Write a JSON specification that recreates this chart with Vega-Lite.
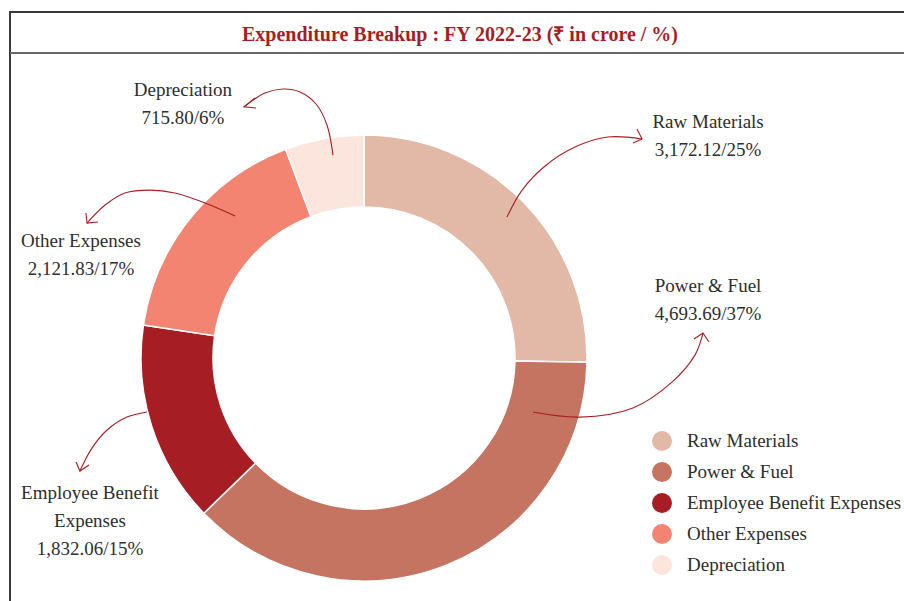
{
  "$schema": "https://vega.github.io/schema/vega-lite/v6.json",
  "width": 900,
  "height": 600,
  "autosize": "none",
  "padding": {"left": 10, "top": 12, "right": 0, "bottom": 0},
  "background": "white",
  "title": {
    "text": "Expenditure Breakup : FY 2022-23 (₹ in crore / %)",
    "font": "Liberation Serif",
    "fontSize": 20,
    "fontWeight": "bold",
    "color": "#A61E24",
    "anchor": "middle",
    "frame": "group",
    "baseline": "alphabetic",
    "offset": 0,
    "dy": 49
  },
  "config": {
    "view": {"stroke": "#3a3a3a", "strokeWidth": 2},
    "font": "Liberation Serif"
  },
  "datasets": {
    "spend": [
      {"idx": 1, "category": "Raw Materials", "value": 3172.12},
      {"idx": 2, "category": "Power & Fuel", "value": 4693.69},
      {"idx": 3, "category": "Employee Benefit Expenses", "value": 1832.06},
      {"idx": 4, "category": "Other Expenses", "value": 2121.83},
      {"idx": 5, "category": "Depreciation", "value": 715.80}
    ],
    "notes": [
      {"category": "Depreciation", "label": "Depreciation\n715.80/6%", "x": -81.2, "y": 117.5},
      {"category": "Raw Materials", "label": "Raw Materials\n3,172.12/25%", "x": 154.3, "y": 103.1},
      {"category": "Power & Fuel", "label": "Power & Fuel\n4,693.69/37%", "x": 154.3, "y": 29.6},
      {"category": "Other Expenses", "label": "Other Expenses\n2,121.83/17%", "x": -126.9, "y": 49.8},
      {"category": "Employee Benefit Expenses", "label": "Employee Benefit\nExpenses\n1,832.06/15%", "x": -122.9, "y": -63.2}
    ],
    "curves": [
      {"id": "dep", "i": 1, "x": -13.9, "y": 91.0},
      {"id": "dep", "i": 2, "x": -16.6, "y": 104.5},
      {"id": "dep", "i": 3, "x": -21.5, "y": 113.9},
      {"id": "dep", "i": 4, "x": -28.7, "y": 119.3},
      {"id": "dep", "i": 5, "x": -36.3, "y": 120.6},
      {"id": "dep", "i": 6, "x": -44.4, "y": 118.8},
      {"id": "dep", "i": 7, "x": -53.8, "y": 112.6},
      {"id": "oth", "i": 1, "x": -57.8, "y": 63.7},
      {"id": "oth", "i": 2, "x": -71.3, "y": 69.5},
      {"id": "oth", "i": 3, "x": -84.8, "y": 74.0},
      {"id": "oth", "i": 4, "x": -96.0, "y": 75.3},
      {"id": "oth", "i": 5, "x": -107.2, "y": 74.0},
      {"id": "oth", "i": 6, "x": -116.1, "y": 68.6},
      {"id": "oth", "i": 7, "x": -124.2, "y": 60.5},
      {"id": "emp", "i": 1, "x": -97.3, "y": -24.2},
      {"id": "emp", "i": 2, "x": -106.3, "y": -26.5},
      {"id": "emp", "i": 3, "x": -115.2, "y": -32.3},
      {"id": "emp", "i": 4, "x": -122.0, "y": -40.4},
      {"id": "emp", "i": 5, "x": -127.4, "y": -50.7},
      {"id": "raw", "i": 1, "x": 64.1, "y": 63.2},
      {"id": "raw", "i": 2, "x": 70.9, "y": 75.3},
      {"id": "raw", "i": 3, "x": 81.2, "y": 86.1},
      {"id": "raw", "i": 4, "x": 94.6, "y": 94.6},
      {"id": "raw", "i": 5, "x": 109.4, "y": 99.1},
      {"id": "raw", "i": 6, "x": 124.7, "y": 98.2},
      {"id": "pow", "i": 1, "x": 75.8, "y": -24.2},
      {"id": "pow", "i": 2, "x": 96.9, "y": -26.5},
      {"id": "pow", "i": 3, "x": 120.6, "y": -22.4},
      {"id": "pow", "i": 4, "x": 138.1, "y": -10.8},
      {"id": "pow", "i": 5, "x": 148.4, "y": 1.3},
      {"id": "pow", "i": 6, "x": 152.0, "y": 11.2}
    ],
    "heads": [
      {"id": "dep", "i": 1, "x": -48.9, "y": 116.6},
      {"id": "dep", "i": 2, "x": -53.8, "y": 112.6},
      {"id": "dep", "i": 3, "x": -48.4, "y": 112.1},
      {"id": "oth", "i": 1, "x": -124.7, "y": 65.0},
      {"id": "oth", "i": 2, "x": -124.2, "y": 60.5},
      {"id": "oth", "i": 3, "x": -119.3, "y": 61.0},
      {"id": "emp", "i": 1, "x": -129.1, "y": -46.6},
      {"id": "emp", "i": 2, "x": -127.4, "y": -50.7},
      {"id": "emp", "i": 3, "x": -123.3, "y": -48.0},
      {"id": "raw", "i": 1, "x": 122.4, "y": 102.7},
      {"id": "raw", "i": 2, "x": 124.7, "y": 98.2},
      {"id": "raw", "i": 3, "x": 120.6, "y": 96.4},
      {"id": "pow", "i": 1, "x": 148.0, "y": 8.5},
      {"id": "pow", "i": 2, "x": 152.0, "y": 11.2},
      {"id": "pow", "i": 3, "x": 154.7, "y": 7.2}
    ]
  },
  "layer": [
    {
      "data": {"values": [{}]},
      "mark": {"type": "rule", "color": "#686868", "strokeWidth": 2},
      "encoding": {
        "y": {"datum": 136.8, "type": "quantitative", "scale": {"domain": [-113.9, 155.16], "nice": false, "zero": false}, "axis": null}
      }
    },
    {
      "data": {"name": "spend"},
      "mark": {"type": "arc", "innerRadius": 151, "outerRadius": 223, "stroke": "white", "strokeWidth": 1.5},
      "encoding": {
        "theta": {"field": "value", "type": "quantitative", "stack": true},
        "order": {"field": "idx", "type": "quantitative"},
        "x": {"datum": 0, "type": "quantitative", "scale": {"domain": [-158.74, 244.84], "nice": false, "zero": false}, "axis": null},
        "y": {"datum": 0, "type": "quantitative", "scale": {"domain": [-113.9, 155.16], "nice": false, "zero": false}, "axis": null},
        "color": {
          "field": "category",
          "type": "nominal",
          "sort": ["Raw Materials", "Power & Fuel", "Employee Benefit Expenses", "Other Expenses", "Depreciation"],
          "scale": {
            "domain": ["Raw Materials", "Power & Fuel", "Employee Benefit Expenses", "Other Expenses", "Depreciation"],
            "range": ["#E2B8A6", "#C47460", "#A61E24", "#F28471", "#FCE5DC"]
          },
          "legend": {
            "title": null,
            "orient": "none",
            "legendX": 642,
            "legendY": 419,
            "padding": 0,
            "symbolType": "circle",
            "symbolSize": 400,
            "symbolStrokeWidth": 0,
            "labelFont": "Liberation Serif",
            "labelFontSize": 19,
            "labelColor": "#2e2e2e",
            "labelOffset": 15,
            "rowPadding": 11,
            "labelLimit": 400
          }
        }
      }
    },
    {
      "data": {"name": "curves"},
      "mark": {"type": "line", "interpolate": "catmull-rom", "color": "#A61E24", "strokeWidth": 1.1},
      "encoding": {
        "x": {"field": "x", "type": "quantitative", "scale": {"domain": [-158.74, 244.84], "nice": false, "zero": false}, "axis": null},
        "y": {"field": "y", "type": "quantitative", "scale": {"domain": [-113.9, 155.16], "nice": false, "zero": false}, "axis": null},
        "detail": {"field": "id"},
        "order": {"field": "i", "type": "quantitative"}
      }
    },
    {
      "data": {"name": "heads"},
      "mark": {"type": "line", "color": "#A61E24", "strokeWidth": 1.1},
      "encoding": {
        "x": {"field": "x", "type": "quantitative"},
        "y": {"field": "y", "type": "quantitative"},
        "detail": {"field": "id"},
        "order": {"field": "i", "type": "quantitative"}
      }
    },
    {
      "data": {"name": "notes"},
      "mark": {"type": "text", "align": "center", "baseline": "alphabetic", "lineBreak": "\n", "lineHeight": 28, "fontSize": 19, "font": "Liberation Serif", "color": "#2e2e2e"},
      "encoding": {
        "x": {"field": "x", "type": "quantitative"},
        "y": {"field": "y", "type": "quantitative"},
        "text": {"field": "label"}
      }
    }
  ]
}
